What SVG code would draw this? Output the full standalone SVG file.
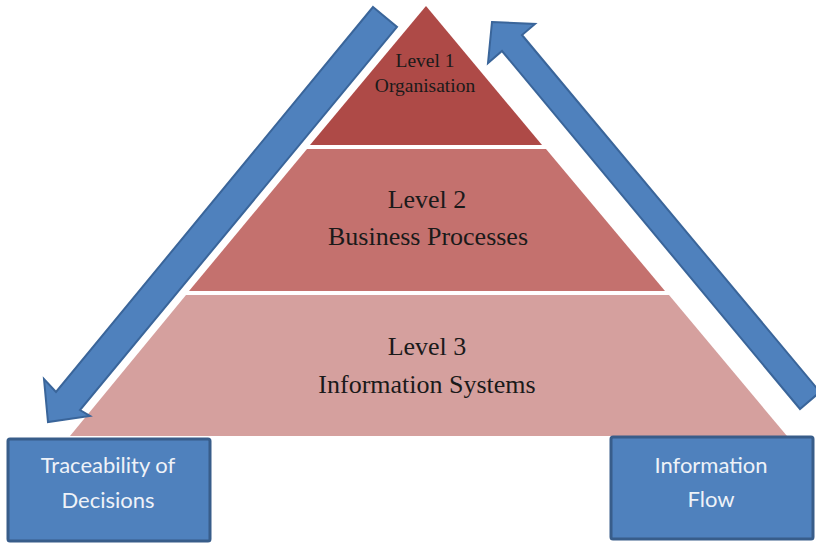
<svg xmlns="http://www.w3.org/2000/svg" width="816" height="543" viewBox="0 0 816 543">
  <style>
    .lvl-text { font-family: "Liberation Serif", "Times New Roman", serif; fill: #1a1a1a; text-anchor: middle; }
    .box { fill: #4F81BD; stroke: #385D8A; stroke-width: 3; }
    .box-text { font-family: Lato, "Open Sans", "Liberation Sans", sans-serif; font-size: 22px; fill: #EEF2F8; text-anchor: middle; }
    .arrow { fill: #4F81BD; stroke: #3A659A; stroke-width: 2; stroke-linejoin: miter; }
  </style>
  <rect width="816" height="543" fill="#ffffff"/>

  <!-- pyramid levels -->
  <g id="level1">
    <polygon points="426,6 542,145 310,145" fill="#AE4A47"/>
    <text class="lvl-text" x="425" y="67" font-size="19.5">Level 1</text>
    <text class="lvl-text" x="425" y="92" font-size="19.5">Organisation</text>
  </g>
  <g id="level2">
    <polygon points="307,149 546,149 665,291 189,291" fill="#C4716E"/>
    <text class="lvl-text" x="427" y="208" font-size="26">Level 2</text>
    <text class="lvl-text" x="428" y="245" font-size="26">Business Processes</text>
  </g>
  <g id="level3">
    <polygon points="186,295 669,295 787,436 70,436" fill="#D5A09E"/>
    <text class="lvl-text" x="427" y="355" font-size="26">Level 3</text>
    <text class="lvl-text" x="427" y="393" font-size="26">Information Systems</text>
  </g>

  <!-- side boxes -->
  <g id="traceability">
    <rect class="box" x="8" y="439" width="202" height="102" rx="2"/>
    <text class="box-text" x="108" y="473">Traceability of</text>
    <text class="box-text" x="108" y="508">Decisions</text>
  </g>
  <g id="information-flow">
    <rect class="box" x="611" y="437" width="202" height="102" rx="2"/>
    <text class="box-text" x="711" y="473">Information</text>
    <text class="box-text" x="711" y="507">Flow</text>
  </g>

  <!-- flow arrows -->
  <g id="connectors">
    <polygon class="arrow" points="373,7 397,27 80,410 90,416 48,422 44,379 56,392"/>
    <polygon class="arrow" points="492,22 535,24 522,35 820,392 800,409 502,51 488,63"/>
  </g>
</svg>
